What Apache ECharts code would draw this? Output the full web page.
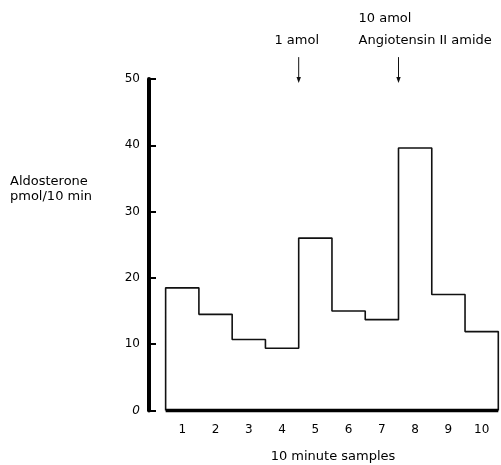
<!DOCTYPE html>
<html><head><meta charset="utf-8">
<script src="https://cdn.jsdelivr.net/npm/echarts@6/dist/echarts.min.js"></script>
<style>html,body{margin:0;padding:0;background:#fff}#c{width:501px;height:465px}</style>
</head><body><div id="c"></div>
<script>
const samples = [1, 2, 3, 4, 5, 6, 7, 8, 9, 10];
const aldosterone = [18.5, 14.5, 10.7, 9.4, 26.0, 15.0, 13.7, 39.6, 17.5, 11.9];
const yTicks = [0, 10, 20, 30, 40, 50];
const doseTimes = [4.5, 7.5];
const doseLabels = [['1 amol'], ['10 amol', 'Angiotensin II amide']];
const yTitle = ['Aldosterone', 'pmol/10 min'];
const xTitle = '10 minute samples';

const FONT = 'DejaVu Sans';
const INK = '#000';
const chart = echarts.init(document.getElementById('c'), null, {renderer: 'canvas'});

const step = [[samples[0] - 0.5, 0]];
samples.forEach((s, i) => { step.push([s - 0.5, aldosterone[i]]); step.push([s + 0.5, aldosterone[i]]); });
step.push([samples[samples.length - 1] + 0.5, 0]);
const base = [[samples[0] - 0.5, 0], [samples[samples.length - 1] + 0.5, 0]];

chart.setOption({
  animation: false,
  backgroundColor: '#fff',
  grid: {left: 149, right: 2.7, top: 79, bottom: 54.5},
  xAxis: {
    type: 'value', min: 0, max: samples[samples.length - 1] + 0.5, interval: 1,
    axisLine: {show: false}, axisTick: {show: false}, splitLine: {show: false},
    axisLabel: {
      margin: 13, color: INK, fontFamily: FONT, fontSize: 12,
      showMaxLabel: false,
      formatter: v => samples.includes(v) ? String(v) : ''
    }
  },
  yAxis: {
    type: 'value', min: yTicks[0], max: yTicks[yTicks.length - 1], interval: 10,
    axisLine: {show: true, lineStyle: {color: '#000', width: 4}},
    axisTick: {show: true, inside: true, length: 7, lineStyle: {color: '#000', width: 2}},
    splitLine: {show: false},
    axisLabel: {
      margin: 9, color: INK, fontFamily: FONT, fontSize: 12,
      formatter: v => v === 0 ? '{it|0}' : String(v),
      rich: {it: {fontStyle: 'italic', fontFamily: FONT, fontSize: 12, color: INK}}
    }
  },
  series: [
    {type: 'line', data: step, symbol: 'none', clip: false,
     lineStyle: {color: '#111', width: 1.6}},
    {type: 'line', data: base, symbol: 'none', clip: false,
     lineStyle: {color: '#000', width: 3.5}}
  ]
});

const g = [];
doseTimes.forEach((t, i) => {
  const top = chart.convertToPixel({xAxisIndex: 0, yAxisIndex: 0}, [t, 53.3]);
  const bot = chart.convertToPixel({xAxisIndex: 0, yAxisIndex: 0}, [t, 49.4]);
  g.push({type: 'line', shape: {x1: top[0], y1: top[1], x2: bot[0], y2: bot[1] - 5}, style: {stroke: '#111', lineWidth: 1}});
  g.push({type: 'polygon', shape: {points: [[bot[0] - 2.2, bot[1] - 6], [bot[0] + 2.2, bot[1] - 6], [bot[0], bot[1]]]}, style: {fill: '#111'}});
  const lines = doseLabels[i];
  if (lines.length === 1) {
    g.push({type: 'text', x: top[0] - 2, y: top[1] - 16, style: {text: lines[0], font: '13px ' + FONT, fill: INK, align: 'center', verticalAlign: 'middle'}});
  } else {
    g.push({type: 'text', x: top[0] - 40, y: top[1] - 16, style: {text: lines[1], font: '13px ' + FONT, fill: INK, align: 'left', verticalAlign: 'middle'}});
    g.push({type: 'text', x: top[0] - 40, y: top[1] - 38, style: {text: lines[0], font: '13px ' + FONT, fill: INK, align: 'left', verticalAlign: 'middle'}});
  }
});
g.push({type: 'text', x: 10, y: 182, style: {text: yTitle[0], font: '13px ' + FONT, fill: INK, align: 'left', verticalAlign: 'middle'}});
g.push({type: 'text', x: 10, y: 197, style: {text: yTitle[1], font: '13px ' + FONT, fill: INK, align: 'left', verticalAlign: 'middle'}});
g.push({type: 'text', x: 333, y: 457, style: {text: xTitle, font: '13px ' + FONT, fill: INK, align: 'center', verticalAlign: 'middle'}});
chart.setOption({graphic: g});
</script></body></html>
